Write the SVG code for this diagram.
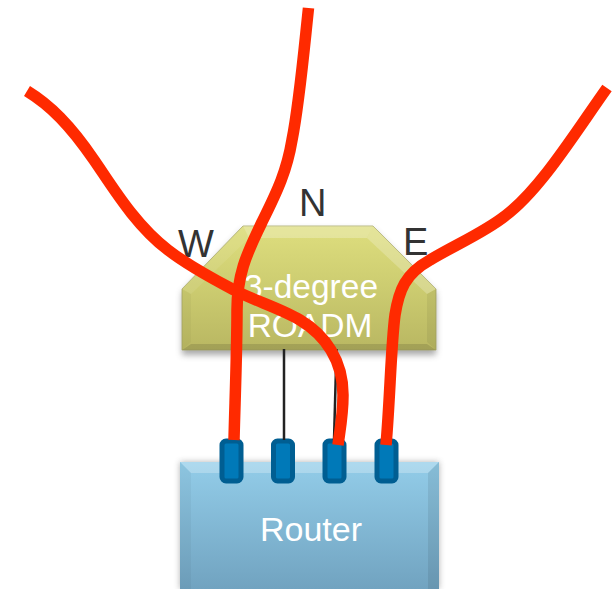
<svg xmlns="http://www.w3.org/2000/svg" width="612" height="589" viewBox="0 0 612 589">
<defs>
<linearGradient id="rg" x1="0" y1="0" x2="0" y2="1"><stop offset="0" stop-color="#dede7e"/><stop offset="0.5" stop-color="#cccc70"/><stop offset="1" stop-color="#b9b762"/></linearGradient>
<linearGradient id="bg" x1="0" y1="0" x2="0" y2="1"><stop offset="0" stop-color="#93cde9"/><stop offset="1" stop-color="#71a3c0"/></linearGradient>
<filter id="sh" x="-10%" y="-10%" width="120%" height="125%"><feGaussianBlur stdDeviation="3"/></filter>
</defs>
<style>
.lbl{font-family:"Liberation Sans",Arial,sans-serif;font-size:38px;fill:#333}
.wht{font-family:"Liberation Sans",Arial,sans-serif;font-size:33.500px;fill:#fff;text-anchor:middle}
.fib{fill:none;stroke:#ff2a00;stroke-width:11.500}
.thin{fill:none;stroke:#222;stroke-width:2.500}
.port{fill:#0079b8;stroke:#005e92;stroke-width:5}
</style>
<g id="roadm">
<path d="M182 289L243 226H373L436 289V351H182Z" fill="#555" opacity=".5" filter="url(#sh)" transform="translate(0 4)"/>
<path d="M182 289L243 226H373L436 289V350H182Z" fill="url(#rg)" stroke="#a8a868" stroke-width=".8"/>
<path d="M243 226H373L367 238H249Z" fill="#fff" opacity=".25"/>
<path d="M182 289L243 226L249 238L191 294Z" fill="#fff" opacity=".08"/>
<path d="M373 226L436 289L427 294L367 238Z" fill="#fff" opacity=".22"/>
<path d="M182 289L191 294V342L182 350Z" fill="#000" opacity=".03"/>
<path d="M436 289L427 294V342L436 350Z" fill="#000" opacity=".06"/>
<path d="M182 350L191 344H427L436 350Z" fill="#000" opacity=".12"/>
<text class="wht" x="311" y="298">3-degree</text>
<text class="wht" x="310" y="337">ROADM</text>
</g>
<g id="router">
<path d="M180 462H439V589H180Z" fill="#555" opacity=".45" filter="url(#sh)"/>
<path d="M180 462H439V589H180Z" fill="url(#bg)"/>
<path d="M180 462H439L428 473H191Z" fill="#fff" opacity=".25"/>
<path d="M180 462L191 473V589H180Z" fill="#000" opacity=".04"/>
<path d="M439 462L428 473V589H439Z" fill="#000" opacity=".08"/>
<text class="wht" x="311" y="541" style="font-size:34px">Router</text>
</g>
<g id="label-w"><text class="lbl" x="178" y="257">W</text></g>
<g id="label-n"><text class="lbl" x="299" y="216">N</text></g>
<g id="label-e"><text class="lbl" x="403" y="255">E</text></g>
<g id="port-1"><rect class="port" x="222" y="441" width="19" height="40" rx="4"/></g>
<g id="port-2"><rect class="port" x="273.500" y="441" width="19" height="40" rx="4"/></g>
<g id="port-3"><rect class="port" x="325" y="441" width="19" height="40" rx="4"/></g>
<g id="port-4"><rect class="port" x="377" y="441" width="19" height="40" rx="4"/></g>
<g id="connectors">
<path class="thin" d="M284 349V440"/>
<path class="thin" d="M336.500 349L334 440"/>
<path class="fib" d="M308.500 8C303 60 299 105 292 140C287 170 278 190 262 222C250 248 237 270 237 310C237 350 235 400 234 440"/>
<path class="fib" d="M27 91C50 105 70 125 94 160C112 186 135 225 168 250C190 267 215 280 234 290C255 301 280 308 300 320C325 335 343 360 343 395C343 415 340 430 338 445"/>
<path class="fib" d="M607 88C575 133 540 190 505 216C485 232 455 245 430 260C405 274 399 290 395 315C391 345 390 400 386 445"/>
</g>
</svg>
